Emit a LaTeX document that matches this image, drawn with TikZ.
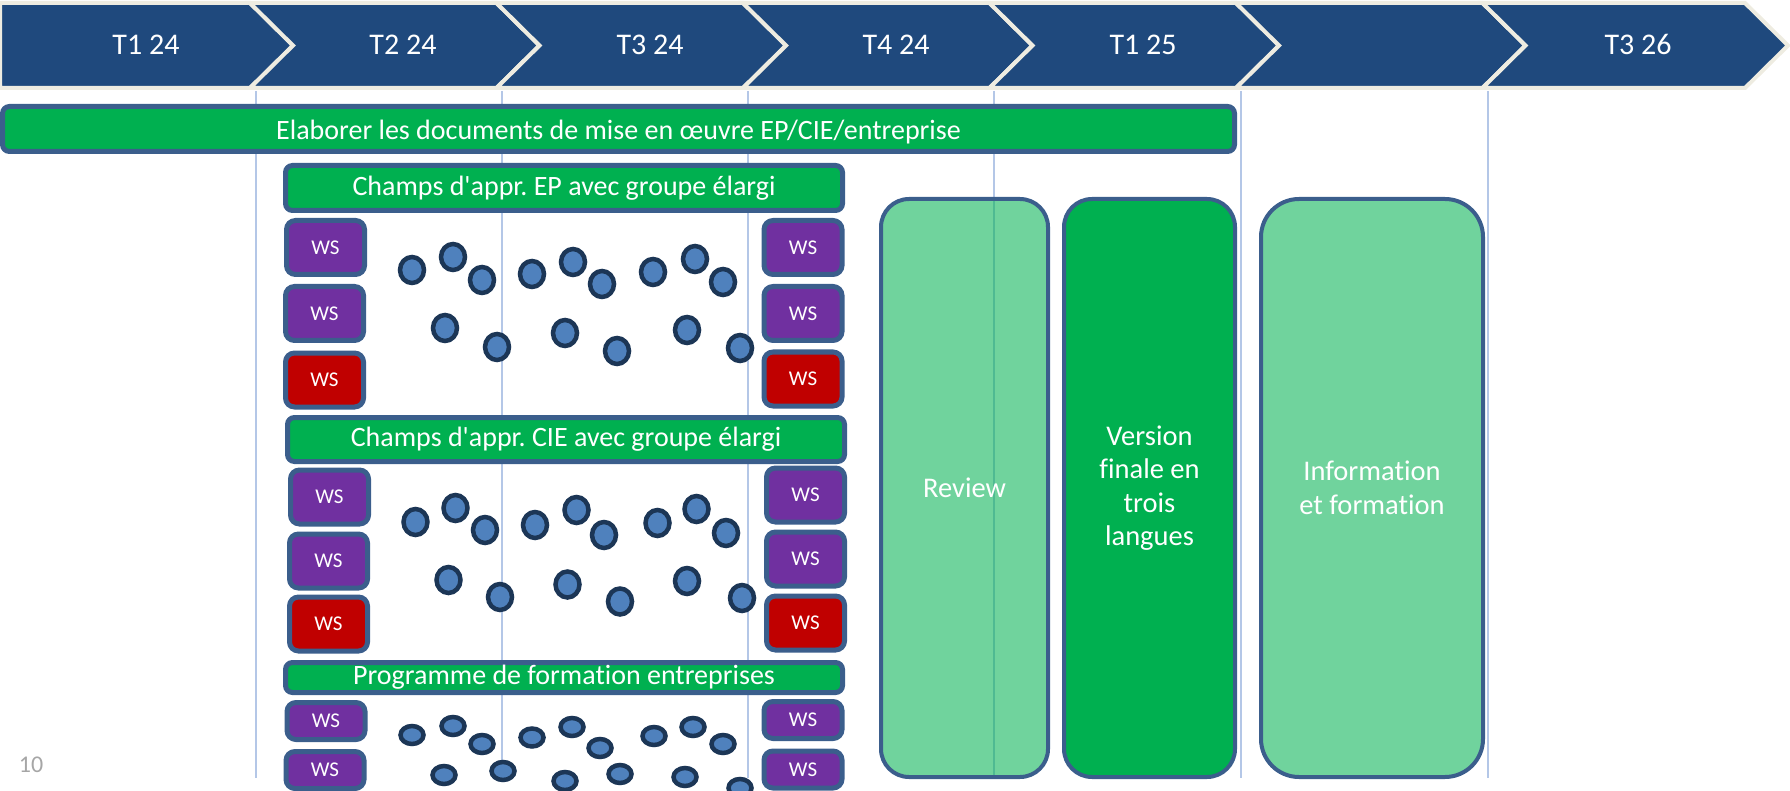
\documentclass[tikz,border=0pt]{standalone}
\usepackage{fontspec}
\setmainfont{Carlito}[Ligatures={TeXOff,CommonOff}]
\usetikzlibrary{shapes.geometric}
\definecolor{chevfill}{HTML}{1F497D}
\definecolor{chevline}{HTML}{EEECE1}
\definecolor{grn}{HTML}{00B050}
\definecolor{bordc}{HTML}{3B5E8C}
\definecolor{purp}{HTML}{7030A0}
\definecolor{redws}{HTML}{C00000}
\definecolor{dotfill}{HTML}{4F81BD}
\definecolor{dotline}{HTML}{1C3656}
\definecolor{guide}{HTML}{B4C7E7}
\definecolor{pagenum}{HTML}{A6A6A6}
\frenchspacing
\begin{document}
\begin{tikzpicture}[x=1pt,y=-1pt,
  chev/.style={fill=chevfill, draw=chevline, line width=4pt, line join=miter},
  chevlabel/.style={text=white, font=\fontsize{30}{34}\selectfont, inner sep=0pt},
  guideline/.style={draw=guide, line width=1.5pt},
  bar/.style={draw=bordc, line width=5pt, fill=grn, rounded corners=7pt, text=white, inner sep=0pt},
  ws/.style={draw=bordc, line width=5pt, rounded corners=9pt, text=white, font=\fontsize{21}{25}\selectfont, minimum width=78pt, minimum height=54pt, inner sep=0pt},
  wsp/.style={ws, fill=purp},
  wsr/.style={ws, fill=redws},
  wssmall/.style={minimum height=37pt},
  dot/.style={ellipse, draw=dotline, fill=dotfill, line width=4.5pt, minimum width=24pt, minimum height=26pt, inner sep=0pt},
  flatdot/.style={dot, minimum width=23pt, minimum height=18pt},
  phase/.style={draw=bordc, line width=4pt, rounded corners=28pt, text=white, font=\fontsize{28.5}{33.5}\selectfont, align=center, inner sep=0pt, minimum height=578pt},
]
\useasboundingbox (0,0) rectangle (1790,791);

% chevrons
\path[chev] (0,3) -- (250,3) -- (293,45.5) -- (250,88) -- (0,88) -- cycle;
\foreach \L/\R in {250/496.5, 496.5/743, 743/989.5, 989.5/1236, 1236/1482.5, 1482.5/1745}
  \path[chev] (\L,3) -- (\R,3) -- (\R+43,45.5) -- (\R,88) -- (\L,88) -- (\L+43,45.5) -- cycle;
\node[chevlabel] (c1) at (146,44.5) {T1 24};
\node[chevlabel] (c2) at (403,44.5) {T2 24};
\node[chevlabel] (c3) at (650,44.5) {T3 24};
\node[chevlabel] (c4) at (896,44.5) {T4 24};
\node[chevlabel] (c5) at (1143,44.5) {T1 25};
\node[chevlabel] (c7) at (1638,44.5) {T3 26};

% guide lines
\foreach \gx [count=\i] in {256,502,748,994,1241,1488} {
  \coordinate (gt\i) at (\gx,91);
  \coordinate (gb\i) at (\gx,778);
  \draw[guideline] (gt\i) -- (gb\i);
}

% main bar
\node[bar, minimum width=1232pt, minimum height=45pt] (elab) at (618.5,129) {};
\node[text=white, inner sep=0pt, font=\fontsize{28}{32}\selectfont] (elabtxt) at ([yshift=-3pt]elab.center) {Elaborer les documents de mise en œuvre EP/CIE/entreprise};

% section bars
\node[bar, minimum width=557pt, minimum height=45pt, font=\fontsize{28}{32}\selectfont] (ep) at (564,188) {Champs d'appr. EP avec groupe élargi};
\node[bar, minimum width=557pt, minimum height=44pt, font=\fontsize{28}{32}\selectfont] (cie) at (566,439.5) {Champs d'appr. CIE avec groupe élargi};
\node[bar, minimum width=557pt, minimum height=30pt, font=\fontsize{28}{32}\selectfont] (prog) at (564,677.5) {Programme de formation entreprises};

% WS boxes EP
\node[wsp] (epL1) at (325.5,247.5) {WS};
\node[wsp] (epL2) at (324.5,313.5) {WS};
\node[wsr] (epL3) at (324.5,380) {WS};
\node[wsp] (epR1) at (803,247.5) {WS};
\node[wsp] (epR2) at (803,313.5) {WS};
\node[wsr] (epR3) at (803,379) {WS};
% WS boxes CIE
\node[wsp] (cieL1) at (329.5,497) {WS};
\node[wsp] (cieL2) at (328.5,561) {WS};
\node[wsr] (cieL3) at (328.5,624) {WS};
\node[wsp] (cieR1) at (805.5,495) {WS};
\node[wsp] (cieR2) at (805.5,559) {WS};
\node[wsr] (cieR3) at (805.5,623) {WS};
% WS boxes Programme
\node[wsp, wssmall] (prL1) at (326,721) {WS};
\node[wsp, wssmall] (prL2) at (325,770) {WS};
\node[wsp, wssmall] (prR1) at (803,720) {WS};
\node[wsp, wssmall] (prR2) at (803,769.5) {WS};

% dots EP
\foreach \px/\py [count=\i] in {412/270,453/257,482/280,532/274,573/262,602/284,653/272,695/259,723/282,445/328,497/347,565/333,617/351,687/330,740/348}
  \node[dot] (epd\i) at (\px,\py) {};
% dots CIE
\foreach \px/\py [count=\i] in {415.5/522,455.5/508,485/530,535/525,576.5/510,604/535,657.5/523,696.5/509,726/533,448.5/580,500/597,567.5/584.5,620/601.5,687/581,742/598}
  \node[dot] (cied\i) at (\px,\py) {};
% dots Programme
\foreach \px/\py [count=\i] in {412/735,453/726,482/744,532/737.5,572/727,600/748,654/736,693/727,723/744,444/775,503/771,565/781,620/774,685/777,740/788}
  \node[flatdot] (prd\i) at (\px,\py) {};

% phase boxes
\node[phase, fill=grn, fill opacity=0.56, text opacity=1, minimum width=167pt] (review) at (964.5,488) {Review};
\node[phase, fill=grn, minimum width=171pt] (version) at (1149.5,488) {Version\\finale en\\trois\\langues};
\node[phase, fill=grn, fill opacity=0.56, text opacity=1, minimum width=222pt, rounded corners=38pt] (info) at (1372,488) {Information\\et formation};

% page number
\node[text=pagenum, font=\fontsize{24}{28}\selectfont, inner sep=0pt] (pnum) at (31,765) {10};
\end{tikzpicture}
\end{document}
